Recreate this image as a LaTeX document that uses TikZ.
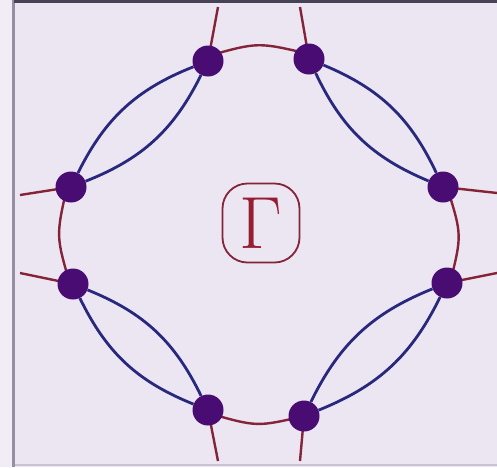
\documentclass[tikz,border=0pt]{standalone}
\usetikzlibrary{calc}
\definecolor{bgc}{RGB}{236,229,242}
\definecolor{bgl}{RGB}{241,236,246}
\definecolor{edgec}{RGB}{150,142,162}
\definecolor{topc}{RGB}{72,66,86}
\definecolor{redl}{RGB}{132,36,56}
\definecolor{bluel}{RGB}{40,40,125}
\definecolor{dotc}{RGB}{72,12,115}
\definecolor{gamc}{RGB}{150,30,50}
\pgfdeclarelayer{back}\pgfdeclarelayer{lines}
\pgfsetlayers{back,lines,main}
\begin{document}
\begin{tikzpicture}[x=1pt,y=-1pt,
  vtx/.style={circle,fill=dotc,minimum size=31pt,inner sep=0pt},
  rline/.style={draw=redl,line width=2.4pt},
  bline/.style={draw=bluel,line width=2.8pt},
  lens/.style={bline,bend left=21},
  lensr/.style={bline,bend right=21}]
\useasboundingbox (0,0) rectangle (497,467);
\begin{pgfonlayer}{back}
  \fill[bgc] (0,0) rectangle (497,467);
  \fill[bgl] (0,0) rectangle (12,467);
  \fill[edgec] (12,0) rectangle (15,467);
  \fill[topc] (14,0) rectangle (497,3);
  \fill[edgec!40!bgc] (15,464) rectangle (497,466);
\end{pgfonlayer}
% vertices
\node[vtx] (t1) at (208,61) {};
\node[vtx] (t2) at (309,59) {};
\node[vtx] (r1) at (443,187) {};
\node[vtx] (r2) at (447,283) {};
\node[vtx] (b2) at (304,416) {};
\node[vtx] (b1) at (208,410) {};
\node[vtx] (l2) at (73,284) {};
\node[vtx] (l1) at (71,187) {};
% external leg ends
\coordinate (et1) at (218,7);
\coordinate (et2) at (300,7);
\coordinate (er1) at (497,193);
\coordinate (er2) at (497,273);
\coordinate (eb2) at (300,461);
\coordinate (eb1) at (218,461);
\coordinate (el2) at (20,273);
\coordinate (el1) at (20,195);
% Gamma
\node[draw=redl,line width=1.8pt,rounded corners=25pt,minimum width=77pt,minimum height=79pt,
      inner sep=0pt,text=gamc,font=\fontsize{74}{74}\selectfont] (g) at (261,223) {Γ};
\begin{pgfonlayer}{lines}
  % red arcs
  \draw[rline] ([yshift=5pt]t1.center) .. controls (258,42) .. ([yshift=5pt]t2.center);
  \draw[rline] ([yshift=-3pt]b1.center) .. controls (257,427) .. (b2.center);
  \draw[rline] ([xshift=-4pt]l1.center) .. controls (56,236) .. ([xshift=-3pt]l2.center);
  \draw[rline] ([xshift=4pt]r1.center) .. controls (462,235) .. ([xshift=3pt]r2.center);
  % legs
  \draw[rline] (t1.center) -- (et1);
  \draw[rline] (t2.center) -- (et2);
  \draw[rline] (r1.center) -- (er1);
  \draw[rline] (r2.center) -- (er2);
  \draw[rline] (b2.center) -- (eb2);
  \draw[rline] (b1.center) -- (eb1);
  \draw[rline] (l2.center) -- (el2);
  \draw[rline] (l1.center) -- (el1);
  % blue lenses
  \draw[lens] (t1) to (l1);
  \draw[lensr] (t1) to (l1);
  \draw[lens] (t2) to (r1);
  \draw[lensr] (t2) to (r1);
  \draw[lens] (r2) to (b2);
  \draw[lensr] (r2) to (b2);
  \draw[lens] (b1) to (l2);
  \draw[lensr] (b1) to (l2);
\end{pgfonlayer}
\end{tikzpicture}
\end{document}
